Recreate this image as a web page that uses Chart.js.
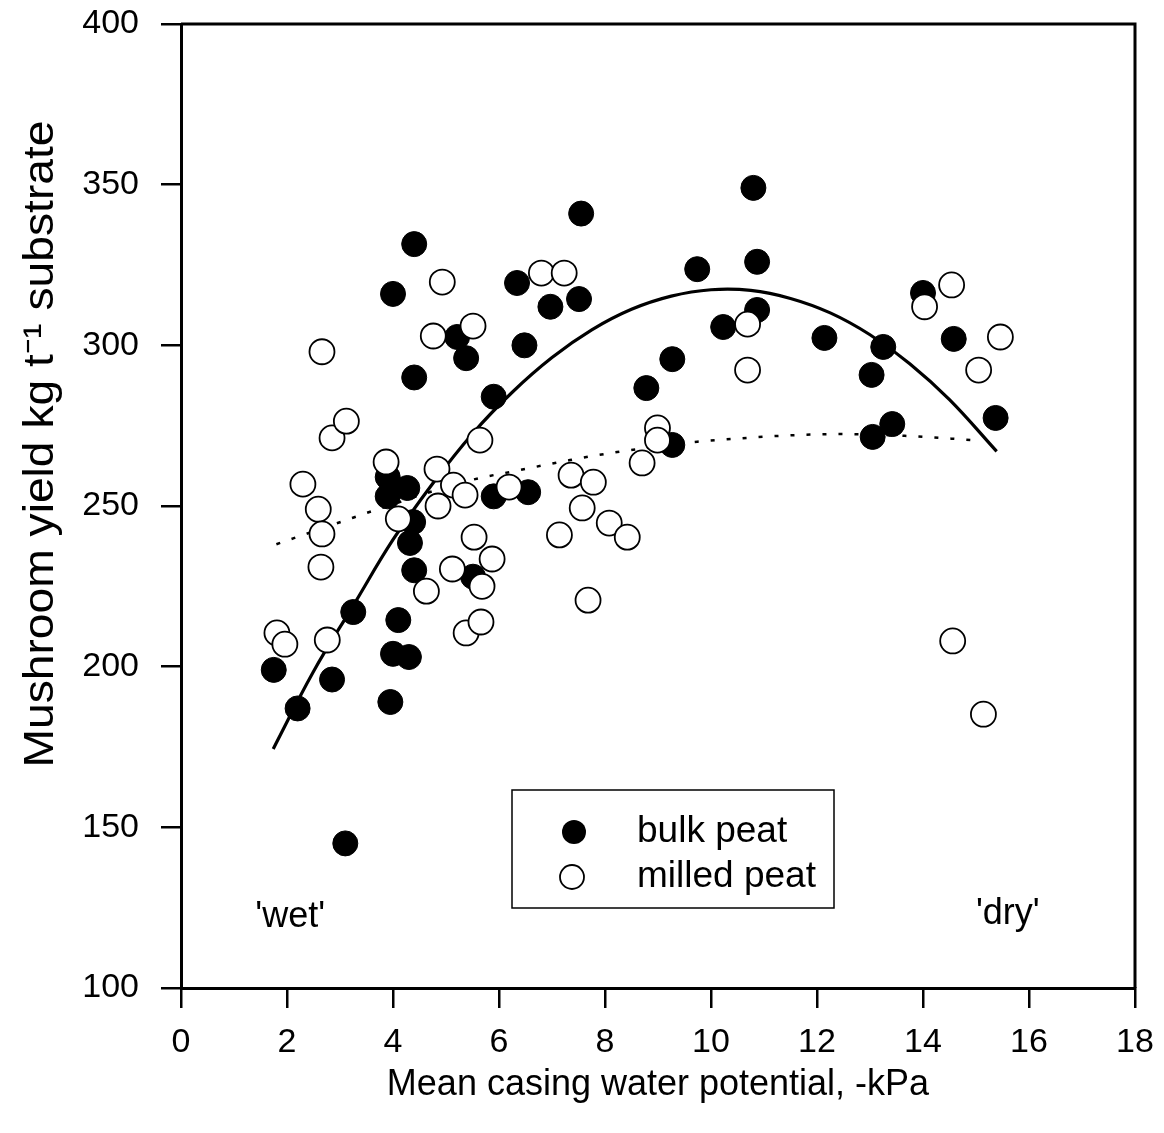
<!DOCTYPE html>
<html>
<head>
<meta charset="utf-8">
<script src="https://cdn.jsdelivr.net/npm/chart.js@4.4.1/dist/chart.umd.min.js"></script>
<style>
  html, body { margin: 0; padding: 0; background: #fff; }
  #wrap { width: 1164px; height: 1133px; }
</style>
</head>
<body>
<div id="wrap"><canvas id="c" width="1164" height="1133"></canvas></div>
<script>
// bulk peat (filled circles)
var bulkX = [1.75, 2.2, 2.85, 3.25, 3.1, 3.95, 4.0, 4.1, 4.3, 4.0, 4.4, 4.4, 3.9, 4.27, 3.9, 4.38, 4.32, 4.4,
             5.21, 5.38, 5.9, 5.9, 5.51, 6.34, 6.97, 7.51, 7.55, 6.48, 6.55, 8.78, 9.27, 9.27, 9.74, 10.23,
             10.8, 10.87, 10.87, 12.14, 13.03, 13.25, 13.05, 13.42, 14.0, 14.58, 15.37];
var bulkY = [199, 187, 196, 217, 145, 189, 204, 214.5, 203, 316, 331.5, 290, 259, 255.6, 253, 245, 238.5, 230,
             302.6, 296, 284, 253, 228, 319.4, 312, 314.4, 341, 300, 254.3, 286.7, 295.7, 269, 323.7, 305.7,
             349, 326, 311, 302.3, 290.8, 299.5, 271.5, 275.5, 316.3, 302, 277.4];

// milled peat (open circles)
var milledX = [1.81, 1.96, 2.3, 2.59, 2.66, 2.64, 2.66, 2.76, 2.85, 3.12, 3.87, 4.1, 4.63, 4.76, 4.83, 4.85,
               4.93, 5.12, 5.14, 5.36, 5.38, 5.51, 5.53, 5.64, 5.66, 5.68, 5.87, 6.19, 6.8, 7.23, 7.14, 7.36,
               7.57, 7.68, 7.78, 8.08, 8.42, 8.7, 8.99, 8.99, 10.69, 10.69, 14.03, 14.54, 14.56, 15.05, 15.14, 15.46];
var milledY = [210.5, 207, 256.8, 249, 241.3, 231, 298, 208.3, 271.2, 276.4, 263.7, 246, 223.5, 302.9, 261.5, 250,
               319.7, 230.4, 256.5, 253.4, 210.5, 306, 240.3, 270.5, 213.9, 225, 233.5, 255.9, 322.5, 322.5, 241, 259.6,
               249.4, 220.7, 257.4, 244.7, 240.3, 263.4, 274.3, 270.5, 292.3, 306.6, 312, 318.8, 208, 292.3, 185.2, 302.6];

// fitted curve, bulk peat (solid)
var fitBulkX = [1.74, 2.5, 3.25, 4.0, 4.75, 5.5, 6.25, 7.0, 7.75, 8.5, 9.25, 10.0, 10.75, 11.5, 12.25, 13.0, 13.75, 14.5, 15.39];
var fitBulkY = [174.4, 198.5, 219, 239.5, 257, 272.5, 285.4, 296.2, 304.8, 311.2, 315.3, 317.3, 317.1, 314.6, 310.1, 303.3, 294.3, 283.1, 267];

// fitted curve, milled peat (dotted)
var fitMilledX = [1.8, 2.13, 3.06, 3.66, 5.46, 6.4, 7.34, 8.23, 9.74, 10.69, 11.25, 12.44, 13.7, 14.95];
var fitMilledY = [238.1, 240, 245.3, 248.7, 258, 261.2, 264.3, 266.8, 270, 271.2, 271.8, 272.4, 271.8, 270.5];

var xTicks = [0, 2, 4, 6, 8, 10, 12, 14, 16, 18];
var yTicks = [100, 150, 200, 250, 300, 350, 400];

function pts(xs, ys) {
  var out = [];
  for (var i = 0; i < xs.length; i++) out.push({x: xs[i], y: ys[i]});
  return out;
}

var FONT = "'Liberation Sans', Arial, sans-serif";

function noOverhang(s) {
  s.paddingTop = 0; s.paddingBottom = 0; s.paddingLeft = 0; s.paddingRight = 0;
}

var extras = {
  id: 'extras',
  afterDraw: function (chart) {
    var ctx = chart.ctx, a = chart.chartArea;
    var xs = chart.scales.x, ys = chart.scales.y;
    ctx.save();
    // frame top + right
    ctx.strokeStyle = '#000';
    ctx.lineWidth = 3;
    ctx.beginPath();
    ctx.moveTo(a.left, a.top);
    ctx.lineTo(a.right, a.top);
    ctx.lineTo(a.right, a.bottom);
    ctx.stroke();

    // y title
    ctx.fillStyle = '#000';
    ctx.font = '42px ' + FONT;
    ctx.textAlign = 'center';
    ctx.textBaseline = 'middle';
    ctx.translate(41, 444);
    ctx.rotate(-Math.PI / 2);
    ctx.scale(1.1, 1);
    ctx.fillText('Mushroom yield kg t\u207B\u00B9 substrate', 0, 0);
    ctx.restore();

    ctx.save();
    ctx.fillStyle = '#000';
    ctx.font = '36px ' + FONT;
    ctx.textBaseline = 'middle';
    ctx.textAlign = 'center';
    ctx.fillText("'wet'", xs.getPixelForValue(2.06), ys.getPixelForValue(122));
    ctx.fillText("'dry'", xs.getPixelForValue(15.6), ys.getPixelForValue(123));

    // legend box
    var bx = 512, by = 790, bw = 322, bh = 118;
    ctx.lineWidth = 1.5;
    ctx.strokeStyle = '#000';
    ctx.fillStyle = '#fff';
    ctx.fillRect(bx, by, bw, bh);
    ctx.strokeRect(bx, by, bw, bh);
    ctx.beginPath();
    ctx.arc(bx + 62, by + 42, 12, 0, Math.PI * 2);
    ctx.fillStyle = '#000';
    ctx.fill();
    ctx.beginPath();
    ctx.arc(bx + 60, by + 87, 12, 0, Math.PI * 2);
    ctx.fillStyle = '#fff';
    ctx.fill();
    ctx.lineWidth = 1.8;
    ctx.stroke();
    ctx.fillStyle = '#000';
    ctx.font = '37px ' + FONT;
    ctx.textAlign = 'left';
    ctx.fillText('bulk peat', bx + 125, by + 42);
    ctx.fillText('milled peat', bx + 125, by + 87);
    ctx.restore();
  }
};

new Chart(document.getElementById('c'), {
  type: 'scatter',
  data: {
    datasets: [
      {
        label: 'milled peat',
        data: pts(milledX, milledY),
        order: 0,
        pointRadius: 12.5,
        pointHoverRadius: 12.5,
        pointBackgroundColor: '#fff',
        pointBorderColor: '#000',
        pointBorderWidth: 1.8
      },
      {
        label: 'bulk peat',
        data: pts(bulkX, bulkY),
        order: 1,
        pointRadius: 12.5,
        pointHoverRadius: 12.5,
        pointBackgroundColor: '#000',
        pointBorderColor: '#000',
        pointBorderWidth: 1
      },
      {
        label: 'fit bulk',
        data: pts(fitBulkX, fitBulkY),
        order: 2,
        showLine: true,
        pointRadius: 0,
        borderColor: '#000',
        borderWidth: 3.2,
        tension: 0.4,
        fill: false
      },
      {
        label: 'fit milled',
        data: pts(fitMilledX, fitMilledY),
        order: 3,
        showLine: true,
        pointRadius: 0,
        borderColor: '#000',
        borderWidth: 2.5,
        borderDash: [4, 12],
        cubicInterpolationMode: 'monotone',
        fill: false
      }
    ]
  },
  options: {
    responsive: false,
    animation: false,
    layout: { padding: { top: 24, right: 29, left: 0, bottom: 0 } },
    plugins: {
      legend: { display: false },
      tooltip: { enabled: false }
    },
    scales: {
      x: {
        type: 'linear',
        min: 0, max: 18,
        afterFit: function (s) { s.height = 145; noOverhang(s); },
        afterBuildTicks: function (s) { s.ticks = xTicks.map(function (v) { return {value: v}; }); },
        border: { display: true, color: '#000', width: 3 },
        grid: { display: true, drawOnChartArea: false, drawTicks: true, tickLength: 20, color: '#000', lineWidth: 2.5 },
        ticks: { color: '#000', font: { family: FONT, size: 34 }, padding: 14, maxRotation: 0 },
        title: { display: true, text: 'Mean casing water potential, -kPa', color: '#000',
                 font: { family: FONT, size: 36 }, padding: { top: 0, bottom: 26 } }
      },
      y: {
        type: 'linear',
        min: 100, max: 400,
        afterFit: function (s) { s.width = 181; noOverhang(s); },
        afterBuildTicks: function (s) { s.ticks = yTicks.map(function (v) { return {value: v}; }); },
        border: { display: true, color: '#000', width: 3 },
        grid: { display: true, drawOnChartArea: false, drawTicks: true, tickLength: 20, color: '#000', lineWidth: 2.5 },
        ticks: { color: '#000', font: { family: FONT, size: 34 }, padding: 22 }
      }
    }
  },
  plugins: [extras]
});
</script>
</body>
</html>
